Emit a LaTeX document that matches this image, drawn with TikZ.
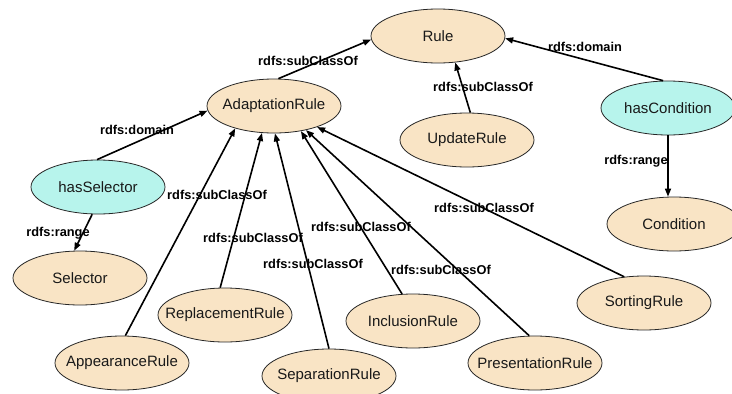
\documentclass[tikz,border=0pt]{standalone}
\usepackage{fontspec}
\setmainfont{Liberation Sans}
\usetikzlibrary{shapes.geometric,arrows.meta}
\definecolor{beige}{HTML}{F9E4C5}
\definecolor{aqua}{HTML}{B7F4EC}
\newcommand\ctr[1]{\makebox[0pt]{#1}}
\begin{document}
\begin{tikzpicture}[x=1pt,y=-1pt,
 cls/.style={ellipse, draw=black!85, line width=0.8pt, fill=beige, minimum width=134pt, minimum height=54pt, inner sep=0pt, text=black!90, font=\fontsize{15}{17}\selectfont},
 prop/.style={cls, fill=aqua},
 lbl/.style={font=\bfseries\fontsize{12.8}{14}\selectfont, inner sep=0pt},
 rel/.style={line width=1.6pt, -{Triangle[length=8pt,width=6pt]}}]
\useasboundingbox (0,0) rectangle (732,394);
% nodes
\node[cls]  (R)  at (438,36)  {\ctr{Rule}};
\node[cls]  (AR) at (274,106) {\ctr{AdaptationRule}};
\node[cls]  (UR) at (467,140) {\ctr{UpdateRule}};
\node[prop] (HC) at (668,108) {\ctr{hasCondition}};
\node[cls]  (C)  at (674,224) {\ctr{Condition}};
\node[prop] (HS) at (98,187)  {\ctr{hasSelector}};
\node[cls]  (S)  at (80,278)  {\ctr{Selector}};
\node[cls]  (AP) at (122,363) {\ctr{AppearanceRule}};
\node[cls]  (RP) at (225,315) {\ctr{ReplacementRule}};
\node[cls]  (SP) at (329,376) {\ctr{SeparationRule}};
\node[cls]  (IR) at (413,321) {\ctr{InclusionRule}};
\node[cls]  (PR) at (535,363) {\ctr{PresentationRule}};
\node[cls]  (SR) at (644,303) {\ctr{SortingRule}};
\coordinate (Ctop) at (HC.south |- C.north);
% connectors
\draw[rel] (AR.81.6) -- (R.183.4);
\draw[rel] (HS.92) -- (AR.184.3);
\draw[rel] (HS.-102.5) -- (S.102.5);
\draw[rel] (UR.83.7) -- (R.-57.8);
\draw[rel] (HC.100.5) -- (R.-2.6);
\draw[rel] (HC.south) -- (Ctop);
\draw[rel] (AP.83.7) -- (AR.210.7);
\draw[rel] (RP.100.5) -- (AR.246);
\draw[rel] (SP.90) -- (AR.272);
\draw[rel] (IR.112.5) -- (AR.-43);
\draw[rel] (PR.102.5) -- (AR.-37);
\draw[rel] (SR.127.6) -- (AR.-26);
% labels
\node[lbl] (l1)  at (308,61)  {rdfs:subClassOf};
\node[lbl] (l2)  at (137,130) {rdfs:domain};
\node[lbl] (l3)  at (58,233)  {rdfs:range};
\node[lbl] (l4)  at (483,87)  {rdfs:subClassOf};
\node[lbl] (l5)  at (585,47)  {rdfs:domain};
\node[lbl] (l6)  at (636,161) {rdfs:range};
\node[lbl] (l7)  at (217,195) {rdfs:subClassOf};
\node[lbl] (l8)  at (253,238) {rdfs:subClassOf};
\node[lbl] (l9)  at (313,264) {rdfs:subClassOf};
\node[lbl] (l10) at (361,227) {rdfs:subClassOf};
\node[lbl] (l11) at (441,270) {rdfs:subClassOf};
\node[lbl] (l12) at (484,208) {rdfs:subClassOf};
\end{tikzpicture}
\end{document}
